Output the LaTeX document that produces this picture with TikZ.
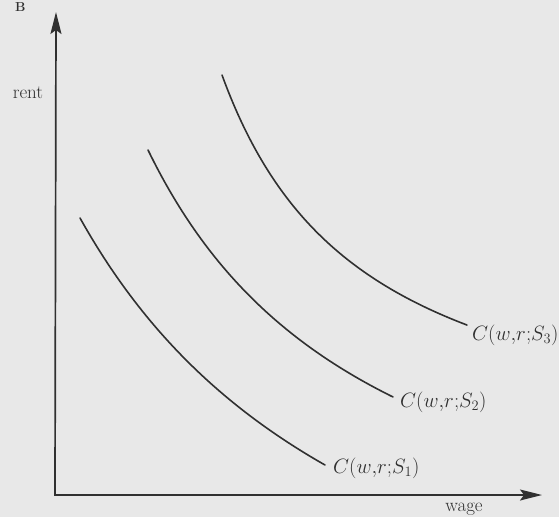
\documentclass[tikz,border=0pt]{standalone}
\usepackage{tikz}
\usetikzlibrary{arrows.meta,positioning}
\definecolor{paper}{HTML}{E8E8E8}
\definecolor{ink}{HTML}{303030}
\newcommand{\costlbl}[1]{$C(w{,}r{;}S_{#1})$}

\begin{document}
\begin{tikzpicture}[
  x=1pt, y=-1pt,
  every node/.style={font=\fontsize{19}{22}\selectfont, text=ink, inner sep=0pt},
  axis/.style={draw=ink, line width=1.7pt, line join=miter},
  cost/.style={draw=ink, line width=1.6pt, line cap=round, samples=80},
  lbl/.style={anchor=base west, font=\fontsize{20}{24}\selectfont},
  >={Stealth[length=22pt,width=11pt,inset=4pt]}
]
\fill[paper] (0,0) rectangle (559,517);
\useasboundingbox (0,0) rectangle (559,517);
\node[font=\bfseries\fontsize{13}{15}\selectfont, anchor=base west] (panel) at (15,11) {B};
\coordinate (o) at (55,495);
\coordinate (ytop) at (56,12);
\coordinate (xend) at (542,495);
\draw[axis, <->] (ytop) -- (o) -- (xend);
\node[anchor=base] (rent) at (28,98) {rent};
\node[anchor=base] (wage) at (464,511) {wage};
\draw[cost] plot[domain=80:325] (\x, {784.8 - 1797.93/((\x+237.2)/100)});
\draw[cost] plot[domain=148:393] (\x, {634.6 - 1142.28/((\x+87.7)/100)});
\draw[cost] plot[domain=222:467] (\x, {473.6 - 580.32/((\x-76.4)/100)});
\node[lbl] (c1) at (333,473) {\costlbl{1}};
\node[lbl] (c2) at (400,407) {\costlbl{2}};
\node[lbl] (c3) at (472,340) {\costlbl{3}};
\end{tikzpicture}
\end{document}
